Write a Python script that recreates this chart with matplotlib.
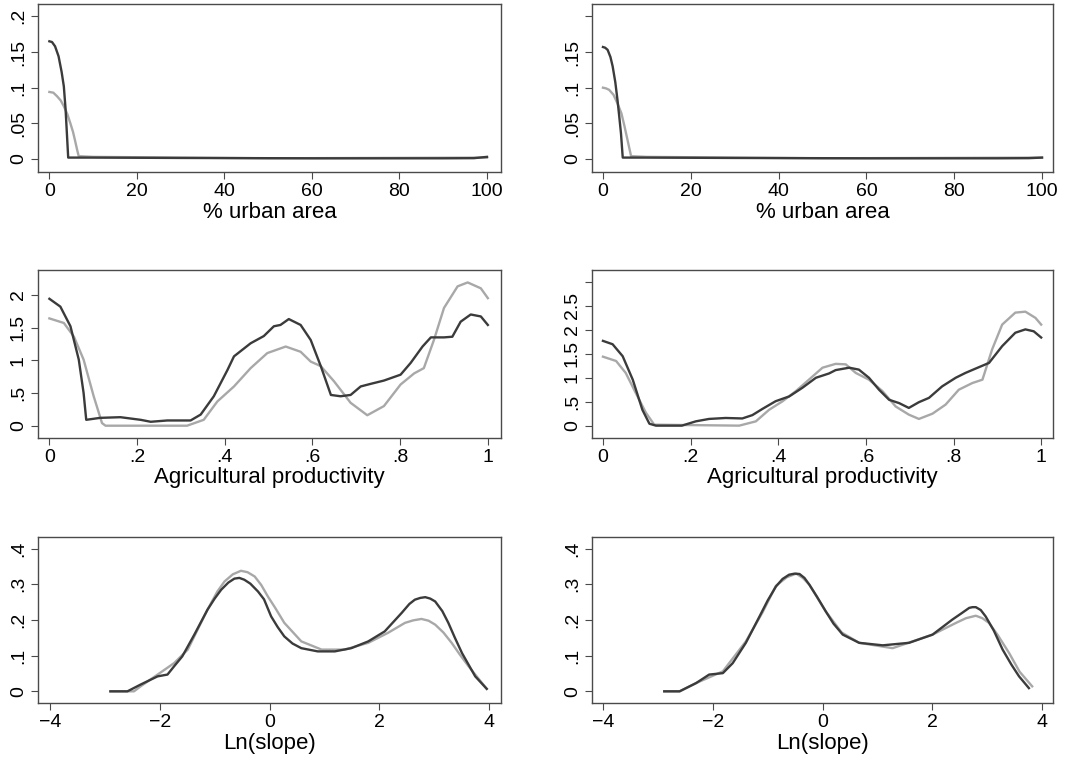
import matplotlib.pyplot as plt

plt.rcParams['font.family'] = ['Liberation Sans', 'DejaVu Sans']

DARK = '#3b3b3b'
LIGHT = '#a8a8a8'
FRAME = '#4a4a4a'

# --- % urban area -------------------------------------------------------
urban_l_dark_x = [0, 0.6, 1.3, 2.1, 2.8, 3.3, 3.7, 4.0, 4.3, 10, 30, 60, 90, 97, 100]
urban_l_dark_y = [0.165, 0.164, 0.158, 0.144, 0.122, 0.102, 0.070, 0.036, 0.002,
                  0.002, 0.0015, 0.001, 0.001, 0.0012, 0.003]
urban_l_light_x = [0, 0.9, 1.75, 2.6, 3.3, 4.1, 4.8, 5.4, 5.9, 6.3, 6.7, 10, 50, 100]
urban_l_light_y = [0.094, 0.093, 0.088, 0.082, 0.074, 0.063, 0.050, 0.038, 0.025,
                   0.014, 0.004, 0.003, 0.001, 0.002]

urban_r_dark_x = [0, 0.5, 1.06, 1.7, 2.2, 2.8, 3.3, 3.7, 4.1, 4.5, 10, 30, 60, 90, 97, 100]
urban_r_dark_y = [0.157, 0.156, 0.153, 0.143, 0.130, 0.108, 0.083, 0.060, 0.036, 0.002,
                  0.002, 0.0015, 0.001, 0.001, 0.0012, 0.002]
urban_r_light_x = [0, 0.7, 1.4, 2.4, 3.3, 4.2, 4.9, 5.4, 5.9, 6.4, 10, 50, 100]
urban_r_light_y = [0.100, 0.099, 0.097, 0.090, 0.078, 0.064, 0.046, 0.032, 0.018, 0.004,
                   0.003, 0.001, 0.002]

# --- Agricultural productivity -----------------------------------------
agri_l_dark_x = [0, 0.025, 0.048, 0.067, 0.078, 0.084, 0.116, 0.162, 0.208, 0.231, 0.269,
                 0.322, 0.345, 0.375, 0.406, 0.421, 0.459, 0.489, 0.512, 0.527, 0.546, 0.573,
                 0.596, 0.619, 0.642, 0.664, 0.687, 0.710, 0.733, 0.763, 0.801, 0.824, 0.851,
                 0.870, 0.900, 0.919, 0.938, 0.961, 0.984, 1.0]
agri_l_dark_y = [1.94, 1.82, 1.52, 1.01, 0.50, 0.09, 0.12, 0.13, 0.09, 0.06, 0.08,
                 0.08, 0.17, 0.45, 0.85, 1.06, 1.26, 1.37, 1.52, 1.54, 1.63, 1.54,
                 1.31, 0.91, 0.47, 0.45, 0.47, 0.60, 0.64, 0.69, 0.78, 0.96, 1.21,
                 1.35, 1.35, 1.36, 1.59, 1.70, 1.67, 1.54]
agri_l_light_x = [0, 0.033, 0.056, 0.078, 0.101, 0.120, 0.128, 0.314, 0.352, 0.383, 0.421,
                  0.459, 0.497, 0.539, 0.573, 0.596, 0.619, 0.649, 0.687, 0.725, 0.763,
                  0.801, 0.832, 0.854, 0.877, 0.900, 0.931, 0.954, 0.984, 1.0]
agri_l_light_y = [1.64, 1.57, 1.36, 1.01, 0.45, 0.04, 0.0, 0.0, 0.09, 0.37, 0.60,
                  0.88, 1.11, 1.21, 1.13, 0.98, 0.91, 0.68, 0.35, 0.16, 0.30,
                  0.63, 0.80, 0.88, 1.31, 1.80, 2.13, 2.19, 2.10, 1.95]

agri_r_dark_x = [0, 0.022, 0.045, 0.068, 0.090, 0.106, 0.121, 0.180, 0.212, 0.242, 0.280,
                 0.318, 0.341, 0.364, 0.394, 0.425, 0.455, 0.486, 0.516, 0.531, 0.562, 0.584,
                 0.607, 0.630, 0.653, 0.676, 0.698, 0.721, 0.744, 0.774, 0.805, 0.827, 0.850,
                 0.881, 0.911, 0.941, 0.964, 0.983, 1.0]
agri_r_dark_y = [1.77, 1.70, 1.45, 0.96, 0.33, 0.04, 0.0, 0.0, 0.09, 0.14, 0.16,
                 0.15, 0.22, 0.35, 0.51, 0.61, 0.79, 1.00, 1.09, 1.16, 1.21, 1.17,
                 1.00, 0.75, 0.54, 0.47, 0.37, 0.49, 0.58, 0.82, 1.00, 1.10, 1.19,
                 1.31, 1.66, 1.94, 2.01, 1.97, 1.84]
agri_r_light_x = [0, 0.030, 0.052, 0.075, 0.098, 0.117, 0.311, 0.349, 0.379, 0.410, 0.440,
                  0.470, 0.501, 0.531, 0.554, 0.577, 0.607, 0.638, 0.668, 0.698, 0.721,
                  0.752, 0.782, 0.812, 0.843, 0.866, 0.888, 0.911, 0.941, 0.964, 0.987, 1.0]
agri_r_light_y = [1.44, 1.35, 1.10, 0.68, 0.27, 0.02, 0.0, 0.09, 0.33, 0.51, 0.72,
                  0.96, 1.21, 1.29, 1.28, 1.10, 0.96, 0.72, 0.40, 0.23, 0.14,
                  0.25, 0.44, 0.75, 0.89, 0.96, 1.59, 2.11, 2.36, 2.38, 2.25, 2.11]

# --- Ln(slope) ----------------------------------------------------------
slope_l_dark_x = [-2.90, -2.59, -2.35, -2.04, -1.86, -1.74, -1.59, -1.37, -1.13, -1.00,
                  -0.88, -0.75, -0.64, -0.55, -0.46, -0.35, -0.21, -0.10, 0.03, 0.15,
                  0.27, 0.42, 0.58, 0.88, 1.19, 1.49, 1.80, 2.10, 2.41, 2.55, 2.65,
                  2.75, 2.84, 2.93, 3.02, 3.15, 3.26, 3.38, 3.51, 3.75, 3.96]
slope_l_dark_y = [0.0, 0.0, 0.019, 0.042, 0.047, 0.070, 0.098, 0.159, 0.229, 0.260,
                  0.285, 0.305, 0.316, 0.318, 0.313, 0.302, 0.280, 0.258, 0.210, 0.180,
                  0.154, 0.134, 0.121, 0.112, 0.112, 0.121, 0.140, 0.168, 0.220, 0.245,
                  0.257, 0.262, 0.264, 0.260, 0.252, 0.225, 0.192, 0.150, 0.107, 0.042, 0.007]
slope_l_light_x = [-2.90, -2.47, -2.35, -2.04, -1.74, -1.49, -1.13, -0.95, -0.82, -0.67,
                   -0.52, -0.40, -0.27, -0.15, -0.03, 0.10, 0.27, 0.58, 0.95, 1.37, 1.80,
                   2.16, 2.47, 2.62, 2.77, 2.90, 3.02, 3.17, 3.32, 3.47, 3.63, 3.96]
slope_l_light_y = [0.0, 0.0, 0.014, 0.047, 0.079, 0.117, 0.229, 0.280, 0.308, 0.328,
                   0.338, 0.334, 0.322, 0.298, 0.266, 0.235, 0.192, 0.140, 0.117, 0.117, 0.136,
                   0.164, 0.192, 0.199, 0.203, 0.198, 0.187, 0.165, 0.136, 0.103, 0.070, 0.007]

slope_r_dark_x = [-2.89, -2.61, -2.31, -2.07, -1.82, -1.64, -1.40, -1.15, -1.00, -0.85,
                  -0.73, -0.61, -0.51, -0.42, -0.33, -0.24, -0.10, 0.06, 0.20, 0.37,
                  0.67, 1.10, 1.58, 2.01, 2.37, 2.55, 2.68, 2.74, 2.80, 2.89, 2.98,
                  3.13, 3.29, 3.45, 3.59, 3.77]
slope_r_dark_y = [0.0, 0.0, 0.023, 0.047, 0.051, 0.079, 0.136, 0.210, 0.255, 0.294,
                  0.315, 0.327, 0.330, 0.329, 0.318, 0.299, 0.265, 0.224, 0.190, 0.159,
                  0.136, 0.129, 0.136, 0.159, 0.201, 0.220, 0.234, 0.236, 0.236, 0.228, 0.210,
                  0.170, 0.117, 0.075, 0.042, 0.009]
slope_r_light_x = [-2.89, -2.61, -2.31, -1.82, -1.40, -1.10, -0.85, -0.65, -0.48, -0.36,
                   -0.24, 0.06, 0.35, 0.67, 1.28, 2.01, 2.44, 2.62, 2.80, 2.92, 3.04,
                   3.20, 3.41, 3.60, 3.83]
slope_r_light_y = [0.0, 0.0, 0.023, 0.056, 0.140, 0.220, 0.296, 0.320, 0.330, 0.318,
                   0.299, 0.224, 0.165, 0.136, 0.121, 0.159, 0.192, 0.205, 0.212, 0.205, 0.192,
                   0.158, 0.107, 0.055, 0.014]

# tick values and their labels
urban_ticks = [0, 20, 40, 60, 80, 100]
urban_yticks = [0, 0.05, 0.1, 0.15, 0.2]
urban_ylabels_l = ['0', '.05', '.1', '.15', '.2']
urban_ylabels_r = ['0', '.05', '.1', '.15', '']
agri_ticks = [0, 0.2, 0.4, 0.6, 0.8, 1.0]
agri_xlabels = ['0', '.2', '.4', '.6', '.8', '1']
agri_yticks_l = [0, 0.5, 1, 1.5, 2]
agri_ylabels_l = ['0', '.5', '1', '1.5', '2']
agri_yticks_r = [0, 0.5, 1, 1.5, 2, 2.5, 3]
agri_ylabels_r = ['0', '.5', '1', '1.5', '2', '2.5', '']
slope_ticks = [-4, -2, 0, 2, 4]
slope_xlabels = ['\u22124', '\u22122', '0', '2', '4']
slope_yticks = [0, 0.1, 0.2, 0.3, 0.4]
slope_ylabels = ['0', '.1', '.2', '.3', '.4']

W, H = 1086, 761


def make_axes(fig, left, right, top, bottom):
    ax = fig.add_axes([left / W, 1 - bottom / H, (right - left) / W, (bottom - top) / H])
    for s in ax.spines.values():
        s.set_color(FRAME)
        s.set_linewidth(1.0)
    ax.tick_params(length=5, width=0.8, color=FRAME, labelsize=14, pad=3)
    ax.tick_params(axis='y', labelrotation=90)
    return ax


def draw_panel(ax, dark, light, xlim, ylim, xticks, xlabels, yticks, ylabels, title):
    ax.plot(light[0], light[1], color=LIGHT, lw=1.7, solid_joinstyle='round')
    ax.plot(dark[0], dark[1], color=DARK, lw=1.7, solid_joinstyle='round')
    ax.set_xlim(*xlim)
    ax.set_ylim(*ylim)
    ax.set_xticks(xticks)
    ax.set_xticklabels(xlabels)
    ax.set_yticks(yticks)
    ax.set_yticklabels(ylabels, va='center')
    ax.set_xlabel(title, fontsize=16, labelpad=1)


fig = plt.figure(figsize=(W / 100, H / 100), dpi=100)

cols = [(38, 501), (592, 1053)]
rows = [(4, 172), (270, 438), (537, 703)]

urban_lbl = [str(v) for v in urban_ticks]

ax = make_axes(fig, cols[0][0], cols[0][1], *rows[0])
draw_panel(ax, (urban_l_dark_x, urban_l_dark_y), (urban_l_light_x, urban_l_light_y),
           (-2.6, 103.2), (-0.0182, 0.2173), urban_ticks, urban_lbl,
           urban_yticks, urban_ylabels_l, '% urban area')

ax = make_axes(fig, cols[1][0], cols[1][1], *rows[0])
draw_panel(ax, (urban_r_dark_x, urban_r_dark_y), (urban_r_light_x, urban_r_light_y),
           (-2.5, 102.5), (-0.0182, 0.2173), urban_ticks, urban_lbl,
           urban_yticks, urban_ylabels_r, '% urban area')

ax = make_axes(fig, cols[0][0], cols[0][1], *rows[1])
draw_panel(ax, (agri_l_dark_x, agri_l_dark_y), (agri_l_light_x, agri_l_light_y),
           (-0.026, 1.03), (-0.188, 2.38), agri_ticks, agri_xlabels,
           agri_yticks_l, agri_ylabels_l, 'Agricultural productivity')

ax = make_axes(fig, cols[1][0], cols[1][1], *rows[1])
draw_panel(ax, (agri_r_dark_x, agri_r_dark_y), (agri_r_light_x, agri_r_light_y),
           (-0.025, 1.027), (-0.258, 3.25), agri_ticks, agri_xlabels,
           agri_yticks_r, agri_ylabels_r, 'Agricultural productivity')

ax = make_axes(fig, cols[0][0], cols[0][1], *rows[2])
draw_panel(ax, (slope_l_dark_x, slope_l_dark_y), (slope_l_light_x, slope_l_light_y),
           (-4.22, 4.22), (-0.0327, 0.4327), slope_ticks, slope_xlabels,
           slope_yticks, slope_ylabels, 'Ln(slope)')

ax = make_axes(fig, cols[1][0], cols[1][1], *rows[2])
draw_panel(ax, (slope_r_dark_x, slope_r_dark_y), (slope_r_light_x, slope_r_light_y),
           (-4.21, 4.21), (-0.0327, 0.4327), slope_ticks, slope_xlabels,
           slope_yticks, slope_ylabels, 'Ln(slope)')

fig.savefig('out.png', dpi=100, facecolor='white')
